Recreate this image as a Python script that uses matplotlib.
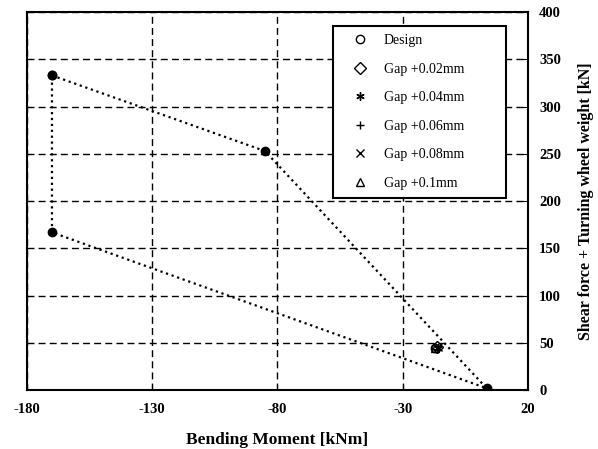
import numpy as np
import matplotlib.pyplot as plt

# design envelope (closed polygon)
env_moment = [-170, -85, 3.5, -170, -170]
env_shear = [333, 253, 2, 167, 333]

# gap cases
gap_labels = ["Design", "Gap +0.02mm", "Gap +0.04mm", "Gap +0.06mm", "Gap +0.08mm", "Gap +0.1mm"]
gap_moment = [-17.0, -16.5, -16.0, -16.5, -16.0, -17.0]
gap_shear = [44.5, 45.5, 45.0, 44.0, 46.0, 45.0]
gap_markers = ["o", "D", (6, 2, 0), "+", "x", "^"]

plt.rcParams['font.family'] = ['Liberation Serif', 'DejaVu Serif']
plt.rcParams['axes.unicode_minus'] = False

fig = plt.figure(figsize=(5.98, 4.49), dpi=100)
ax = fig.add_axes([0.045, 0.131, 0.838, 0.842])

ax.plot(env_moment, env_shear, linestyle=":", color="black", lw=1.6,
        marker="o", markersize=6, markerfacecolor="black", zorder=3)

for m, s, mk, lab in zip(gap_moment, gap_shear, gap_markers, gap_labels):
    ax.plot([m], [s], linestyle="none", marker=mk, markersize=6,
            markerfacecolor="none", markeredgecolor="black", color="black",
            markeredgewidth=1.0, label=lab, zorder=4)

ax.set_xlim(-180, 20)
ax.set_ylim(0, 400)
ax.set_xticks([-180, -130, -80, -30, 20])
ax.set_yticks(np.arange(0, 401, 50))
ax.yaxis.tick_right()
ax.yaxis.set_label_position("right")
ax.tick_params(direction="in", length=4, labelsize=10.5)
ax.tick_params(axis="x", pad=9)
ax.tick_params(axis="y", pad=8)
for t in ax.get_xticklabels() + ax.get_yticklabels():
    t.set_fontweight("bold")

ax.grid(True, linestyle=(0, (5, 3)), color="black", lw=1.0)
for sp in ax.spines.values():
    sp.set_linewidth(1.5)

ax.set_xlabel("Bending Moment [kNm]", fontsize=12.5, fontweight="bold", labelpad=12)
ax.set_ylabel("Shear force + Turning wheel weight [kN]", fontsize=11.5,
              fontweight="bold", labelpad=12)

leg = ax.legend(loc="upper left", bbox_to_anchor=(0.611, 0.524, 0.345, 0.438),
                mode="expand", fontsize=10, labelspacing=1.12, handletextpad=0.3,
                borderpad=0.55, fancybox=False, framealpha=1, edgecolor="black",
                handlelength=2.8, borderaxespad=0)
leg.get_frame().set_linewidth(1.5)

fig.savefig("out.png", dpi=100)
